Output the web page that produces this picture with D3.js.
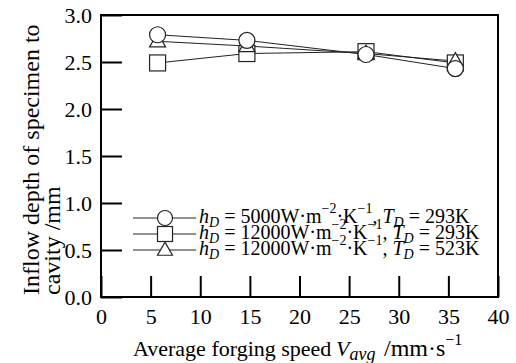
<!DOCTYPE html>
<html>
<head>
<meta charset="utf-8">
<script src="https://cdn.jsdelivr.net/npm/d3@7"></script>
</head>
<body style="margin:0">
<script>
// data
var speeds = [5.7, 14.7, 26.7, 35.7]
var depthCircle = [2.79, 2.73, 2.58, 2.43]   // hD=5000, TD=293K
var depthSquare = [2.49, 2.59, 2.61, 2.49]   // hD=12000, TD=293K
var depthTriangle = [2.72, 2.67, 2.59, 2.51] // hD=12000, TD=523K
var xTicks = [0, 5, 10, 15, 20, 25, 30, 35, 40]
var yTicks = [0, 0.5, 1.0, 1.5, 2.0, 2.5, 3.0]
var legendRows = [
  { shape: 'circle', hD: '5000', TD: '293K' },
  { shape: 'square', hD: '12000', TD: '293K' },
  { shape: 'triangle', hD: '12000', TD: '523K' }
]

var FONT = "'Liberation Serif'"
var W = 516, H = 363
var L = 101, R = 498, T = 15, B = 297

var svg = d3.select('body').append('svg').attr('width', W).attr('height', H)
  .style('font-family', FONT)

var x = d3.scaleLinear().domain([0, 40]).range([L, R])
var y = d3.scaleLinear().domain([0, 3]).range([B, T])

// axes with long inward ticks
var xAxis = d3.axisBottom(x).tickValues(xTicks).tickSize(-21).tickFormat(d3.format('d'))
var yAxis = d3.axisLeft(y).tickValues(yTicks).tickSize(-21).tickFormat(d3.format('.1f'))

var gx = svg.append('g').attr('transform', 'translate(0,' + B + ')').call(xAxis)
var gy = svg.append('g').attr('transform', 'translate(' + L + ',0)').call(yAxis)
gx.select('.domain').remove()
gy.select('.domain').remove()
svg.selectAll('.tick line').attr('stroke', '#000').attr('stroke-width', 2)
svg.selectAll('.tick text').style('font-family', FONT).style('font-size', '22px').attr('fill', '#000')
gy.selectAll('.tick text').attr('x', -9).attr('dy', '0.36em')
gx.selectAll('.tick text').attr('y', 11).attr('dy', '0.71em')

svg.append('rect').attr('x', L).attr('y', T).attr('width', R - L).attr('height', B - T)
  .attr('fill', 'none').attr('stroke', '#000').attr('stroke-width', 2)

function marker(g, shape, cx, cy, s) {
  if (shape == 'circle') {
    g.append('circle').attr('cx', cx).attr('cy', cy).attr('r', s)
  } else if (shape == 'square') {
    g.append('rect').attr('x', cx - s).attr('y', cy - s).attr('width', 2 * s).attr('height', 2 * s)
  } else {
    var h = s * 1.75
    g.append('path').attr('d', 'M' + cx + ',' + (cy - h * 0.6) + 'L' + (cx + s) + ',' + (cy + h * 0.4) + 'L' + (cx - s) + ',' + (cy + h * 0.4) + 'Z')
  }
}

var line = d3.line().x(function (d) { return x(d[0]) }).y(function (d) { return y(d[1]) })

var series = [
  { shape: 'square', vals: depthSquare },
  { shape: 'triangle', vals: depthTriangle },
  { shape: 'circle', vals: depthCircle }
]
series.forEach(function (s) {
  var pts = speeds.map(function (v, i) { return [v, s.vals[i]] })
  svg.append('path').datum(pts).attr('d', line).attr('fill', 'none').attr('stroke', '#222').attr('stroke-width', 1)
})
series.forEach(function (s) {
  var g = svg.append('g').attr('fill', '#fff').attr('stroke', '#222').attr('stroke-width', 1.2)
  speeds.forEach(function (v, i) { marker(g, s.shape, x(v), y(s.vals[i]), 8) })
})

function txt(x0, y0, size) {
  return svg.append('text').attr('x', x0).attr('y', y0).style('font-family', FONT).style('font-size', size + 'px').attr('fill', '#000')
}

// legend
var legY = [218, 234, 250]
legendRows.forEach(function (r, i) {
  var ly = legY[i]
  svg.append('line').attr('x1', 133).attr('x2', 196).attr('y1', ly).attr('y2', ly).attr('stroke', '#222').attr('stroke-width', 1)
  var g = svg.append('g').attr('fill', '#fff').attr('stroke', '#222').attr('stroke-width', 1.2)
  marker(g, r.shape, 165, ly, 7.5)
  var t = txt(199, ly + 5, 20)
  t.append('tspan').style('font-style', 'italic').text('h')
  t.append('tspan').style('font-style', 'italic').style('font-size', '14px').attr('dy', 4).text('D')
  t.append('tspan').attr('dy', -4).text(' = ' + r.hD + 'W\u00b7m')
  t.append('tspan').style('font-size', '14px').attr('dy', -10).text('\u22122')
  t.append('tspan').attr('dy', 10).text('\u00b7K')
  t.append('tspan').style('font-size', '14px').attr('dy', -10).text('\u22121')
  t.append('tspan').attr('dy', 10).text(', ')
  t.append('tspan').style('font-style', 'italic').text('T')
  t.append('tspan').style('font-style', 'italic').style('font-size', '14px').attr('dy', 4).text('D')
  t.append('tspan').attr('dy', -4).text(' = ' + r.TD)
})

// axis titles
var xt = txt(133, 356, 22)
xt.append('tspan').text('Average forging speed')
xt.append('tspan').attr('x', 336).style('font-style', 'italic').text('V')
xt.append('tspan').style('font-style', 'italic').style('font-size', '18px').attr('dy', 4).text('avg')
xt.append('tspan').attr('x', 384).attr('dy', -4).style('font-size', '24px').text('/mm\u00b7s')
xt.append('tspan').style('font-size', '16px').attr('dy', -11).text('\u22121')

var yt = svg.append('text').attr('transform', 'translate(39,295) rotate(-90)').style('font-family', FONT).style('font-size', '24px')
yt.append('tspan').attr('x', 0).attr('y', 0).text('Inflow depth of specimen to')
yt.append('tspan').attr('x', 0).attr('y', 21).text('cavity /mm')
</script>
</body>
</html>
